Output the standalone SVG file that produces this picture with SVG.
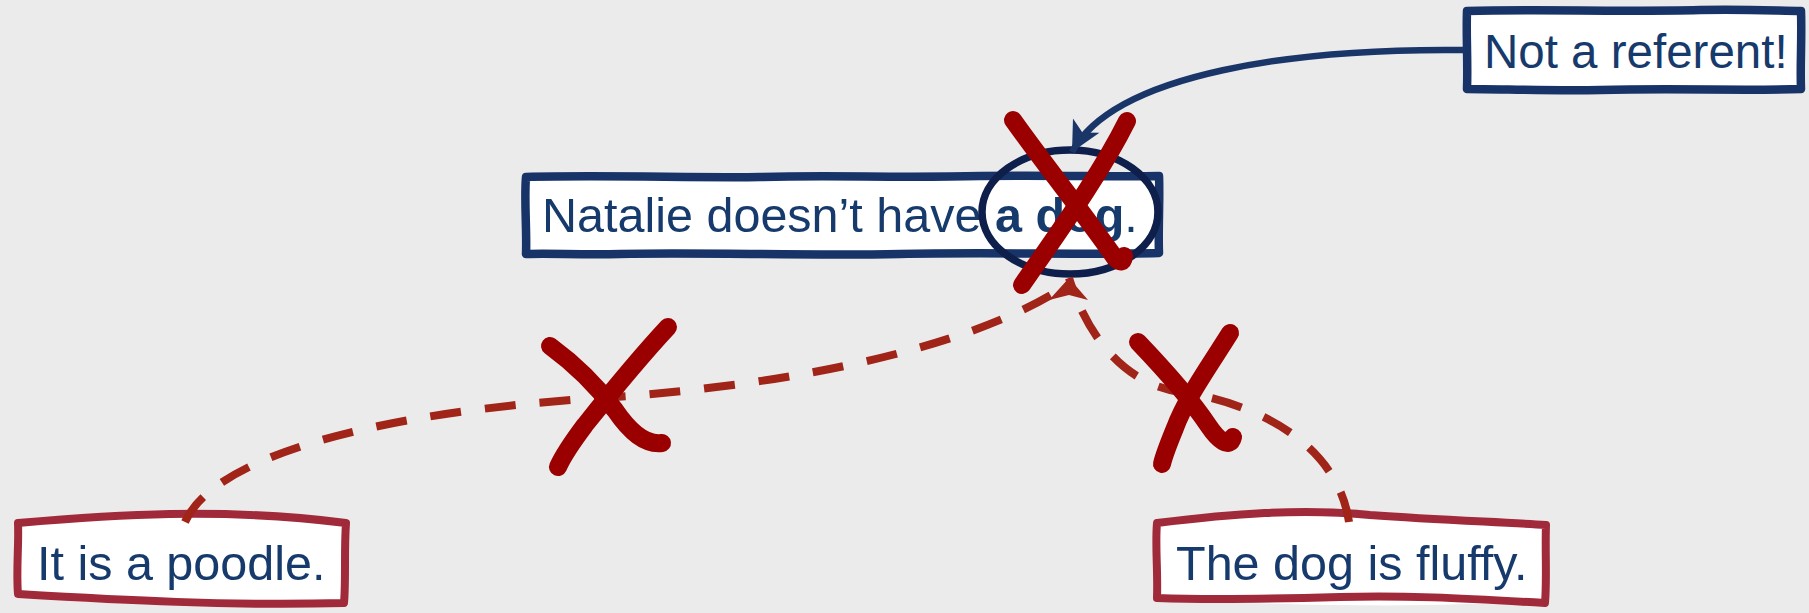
<svg xmlns="http://www.w3.org/2000/svg" width="1809" height="613" viewBox="0 0 1809 613">
<style>
.txt{font-family:"Liberation Sans",Arial,sans-serif;font-size:48.5px;fill:#173a6c}
.small{font-size:47.5px}
.bold{font-weight:bold}
.navybox{fill:#fff;stroke:#173368;stroke-width:8.5;stroke-linejoin:round}
.redbox{fill:#fff;stroke:#a12a3a;stroke-width:8;stroke-linejoin:round}
.shadow{fill:#fff;stroke:none}
.dash{fill:none;stroke:#a02418;stroke-width:8;stroke-dasharray:31 24}
.blue{fill:none;stroke:#1a3668;stroke-width:6.5}
.cross{fill:none;stroke:#9b0000;stroke-width:18;stroke-linecap:round;stroke-linejoin:round}
.ring{fill:none;stroke:#0e1f4b;stroke-width:7.5}
</style>
<defs>
<marker id="blueHead" markerUnits="userSpaceOnUse" markerWidth="50" markerHeight="50" refX="0" refY="0" viewBox="-35 -25 50 50" orient="auto">
<path d="M0,0 L-30,-15 L-22,0 L-30,15 Z" fill="#1a3668"/>
</marker>
<marker id="redHead" markerUnits="userSpaceOnUse" markerWidth="50" markerHeight="50" refX="0" refY="0" viewBox="-35 -25 50 50" orient="270">
<path d="M0,0 L-22,-20 L-17,0 L-22,19 Z" fill="#a02418"/>
</marker>
</defs>
<rect width="1809" height="613" fill="#ebebeb"/>

<g id="node-main">
<path class="navybox" d="M526,177 C 600,175 700,178 760,177 C 830,175 900,178 980,176 C 1060,175 1110,177 1159,176 C 1160,200 1158,230 1159,253 C 1080,255 990,252 900,254 C 800,256 700,252 620,254 C 580,255 550,253 526,254 C 527,230 524,200 526,177 Z"/>
<text class="txt" x="542" y="232">Natalie doesn’t have <tspan class="bold">a dog</tspan>.</text>
<ellipse class="ring" cx="1070" cy="212" rx="88" ry="62"/>
</g>

<g id="node-referent">
<path class="navybox" d="M1467,11 C 1540,9 1620,12 1700,10 C 1750,9 1780,11 1801,11 C 1802,40 1800,65 1801,89 C 1740,91 1680,88 1600,90 C 1550,91 1500,89 1467,89 C 1468,60 1466,35 1467,11 Z"/>
<text class="txt small" x="1484" y="68">Not a referent!</text>
</g>

<g id="node-poodle">
<path class="shadow" d="M30,520 C 100,510 220,504 330,518 L 340,600 C 250,610 120,604 25,596 Z"/>
<path class="redbox" d="M18,523 C 110,515 220,507 346,523 C 344,550 346,580 344,603 C 230,606 120,600 18,594 C 16,570 19,545 18,523 Z"/>
<text class="txt" x="37" y="580">It is a poodle.</text>
</g>

<g id="node-fluffy">
<path class="shadow" d="M1175,518 C 1240,510 1300,506 1370,512 L 1540,528 L 1545,600 C 1440,608 1330,606 1170,601 Z"/>
<path class="redbox" d="M1157,523 C 1230,514 1300,508 1370,515 C 1440,520 1500,522 1546,525 C 1545,550 1547,580 1545,603 C 1460,598 1400,595 1340,597 C 1270,599 1210,600 1157,598 C 1158,570 1155,545 1157,523 Z"/>
<text class="txt" x="1176" y="580">The dog is fluffy.</text>
</g>

<g id="connectors">
<path class="blue" marker-end="url(#blueHead)" d="M1465,50 C 1300,48 1115,72 1072,152"/>
<path class="dash" d="M185,522 C 215,455 380,412 600,398 C 800,385 980,345 1070,283"/>
<path class="dash" marker-end="url(#redHead)" d="M1349,522 C 1335,430 1230,398 1180,392 C 1120,383 1085,330 1069,278"/>
</g>

<g id="crosses">
<path class="cross" d="M1013,120 C 1045,165 1085,215 1115,258 Q 1123,266 1124,256"/>
<path class="cross" d="M1127,121 C 1100,175 1060,230 1022,285"/>
<path class="cross" d="M550,346 C 580,368 600,390 615,410 C 630,432 645,445 662,443"/>
<path class="cross" d="M668,327 C 640,357 605,400 585,425 C 570,445 562,458 558,467"/>
<path class="cross" d="M1138,342 C 1160,365 1190,398 1208,425 C 1218,440 1230,450 1233,437"/>
<path class="cross" d="M1230,333 C 1210,365 1185,400 1175,428 C 1168,445 1164,455 1162,464"/>
</g>
</svg>
